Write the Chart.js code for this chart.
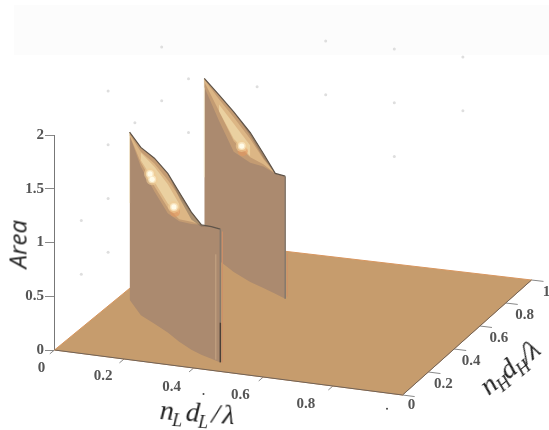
<!DOCTYPE html>
<html>
<head>
<meta charset="utf-8">
<style>
  html, body { margin: 0; padding: 0; background: #fff; }
  #wrap { position: relative; width: 549px; height: 430px; overflow: hidden; }
  #band { position: absolute; left: 14px; top: 5px; width: 535px; height: 50px; background: #fcfcfc; }
  canvas { position: absolute; left: 0; top: 0; filter: blur(0.5px); }
  .title { position: absolute; white-space: nowrap; color: #222; transform-origin: left center; }
  .math { font: italic 28px "Liberation Serif", serif; letter-spacing: -1px; }
  .math sub { font-size: 18px; line-height: 0; vertical-align: -6px; }
  .math b { font-weight: normal; margin-left: 4px; }
  #zTitle { left: -7px; top: 228px; width: 48px; text-align: center; font: italic 24px "Open Sans", sans-serif; transform-origin: center; transform: rotate(-90deg); }
  #lTitle { left: 160px; top: 394px; transform: rotate(4deg); }
  #hTitle { left: 483px; top: 373px; transform: rotate(-39deg); }
</style>
</head>
<body>
<div id="wrap">
  <div id="band"></div>
  <canvas id="chart" width="549" height="430"></canvas>
  <div class="title" id="zTitle">Area</div>
  <div class="title math" id="lTitle">n<sub>L</sub><b>d</b><sub>L</sub><b>/</b><b>λ</b></div>
  <div class="title math" id="hTitle">n<sub>H</sub>d<sub>H</sub>/λ</div>
</div>
<script src="https://cdn.jsdelivr.net/npm/chart.js@4"></script>
<script>
// ticks
const areaTicks = [0, 0.5, 1, 1.5, 2];
const nLTicks = [0, 0.2, 0.4, 0.6, 0.8];
const nHTicks = [0, 0.2, 0.4, 0.6, 0.8, 1];

// front wall: footprint, crest height, cap bands
const wallOneL = [0.035, 0.11, 0.17, 0.23, 0.286, 0.34, 0.38, 0.417, 0.45];
const wallOneH = [0.47, 0.36, 0.306, 0.25, 0.19, 0.14, 0.11, 0.089, 0.07];
const wallOneTop = [1.56, 1.56, 1.54, 1.48, 1.39, 1.28, 1.21, 1.23, 1.24];
const wallOneCapLow = [1.53, 1.38, 1.23, 1.11, 1.12, 1.17, 1.21, 1.23, 1.24];
const wallOneMidTop = [1.54, 1.52, 1.49, 1.42, 1.35, 1.27, 1.21, 1.23, 1.24];
const wallOneMidLow = [1.53, 1.42, 1.28, 1.16, 1.14, 1.19, 1.21, 1.23, 1.24];
const wallOneShade = [1.56, 1.56, 1.54, 1.48, 1.34, 1.21, 1.19, 1.23, 1.24];
const oneLightL = [0.11, 0.17, 0.23, 0.286];
const oneLightH = [0.36, 0.306, 0.25, 0.19];
const oneLightTop = [1.51, 1.46, 1.38, 1.28];
const oneLightLow = [1.44, 1.32, 1.20, 1.19];

// back wall
const wallTwoL = [0.046, 0.141, 0.214, 0.286, 0.337, 0.385, 0.425];
const wallTwoH = [1.0, 0.866, 0.788, 0.726, 0.692, 0.657, 0.628];
const wallTwoTop = [1.52, 1.54, 1.49, 1.39, 1.25, 1.12, 1.14];
const wallTwoCapLow = [1.44, 1.30, 1.12, 1.11, 1.13, 1.12, 1.14];
const wallTwoMidTop = [1.51, 1.50, 1.44, 1.33, 1.20, 1.12, 1.14];
const wallTwoMidLow = [1.49, 1.39, 1.22, 1.16, 1.15, 1.12, 1.14];
const wallTwoShade = [1.52, 1.54, 1.49, 1.36, 1.21, 1.12, 1.14];
const twoLightL = [0.141, 0.214, 0.286];
const twoLightH = [0.866, 0.788, 0.726];
const twoLightTop = [1.45, 1.38, 1.27];
const twoLightLow = [1.39, 1.24, 1.17];

// specular spots on the caps
const glowL = [0.148, 0.16, 0.265, 0.25];
const glowH = [0.33, 0.315, 0.205, 0.755];
const glowZ = [1.36, 1.33, 1.23, 1.22];
const haloL = [0.27, 0.255];
const haloH = [0.2, 0.75];
const haloZ = [1.19, 1.18];

// faint leftovers of the grid on the two back planes
const speckL = [0, 0, 0, 0, 0, 0, 0, 0, 0, 0, 0, 0.2, 0.4, 0.4, 0.6, 0.6, 0.6, 0.8, 0.8];
const speckH = [0.2, 0.2, 0.4, 0.4, 0.4, 0.4, 0.6, 0.8, 0.8, 1, 1, 1, 1, 1, 1, 1, 1, 1, 1];
const speckZ = [0.5, 1, 0.5, 1, 1.5, 2, 1.5, 1.5, 2, 1, 1.5, 1.5, 1.5, 2, 1, 1.5, 2, 1.5, 2];

// two stray scan marks below the floor
const strayL = [0.5, 1];
const strayH = [-0.19, -0.12];

// view: how nL, nH and Area land on the flat chart, in pixels per unit
const PX_L = 348, PX_H = 134, PX_LH = 5;
const PY_L = 45, PY_H = 110, PY_LH = 5, PY_Z = 107.5;

const p3 = (L, H, z) => ({
  x: L + (PX_H * H - PX_LH * L * H) / PX_L,
  y: z + (PY_H * H - PY_L * L + PY_LH * L * H) / PY_Z,
});
const strip = (Ls, Hs, Zs) => Ls.map((L, i) => p3(L, Hs[i], Array.isArray(Zs) ? Zs[i] : Zs));

const line = (data, color, width = 1, extra = {}) => ({
  type: 'scatter', data, showLine: true, pointRadius: 0, borderColor: color, borderWidth: width, clip: false, fill: false, ...extra,
});
const band = (data, color, extra = {}) => line(data, color, 0, { fill: '+1', backgroundColor: color, ...extra });
const dots = (data, color, radius) => ({
  type: 'scatter', data, showLine: false, pointRadius: radius, pointBackgroundColor: color, pointBorderWidth: 0, clip: false,
});
// vertical line standing on the floor
const post = (L, H, z0, z1, color, width) => line([p3(L, H, z0), p3(L, H, z1)], color, width);

const WALL = '#ab8a6f', FLOOR = '#c69c6d', CAP = '#c39b72', CAP_MID = '#dcb685', CAP_LIGHT = '#ead0a0', CREST = '#5f5449', NONE = 'rgba(0,0,0,0)';
const SHADE = 'rgba(110,98,84,0.45)', EDGE = '#85796c', ORANGE = '#cf8f68', PALE = 'rgba(240,226,195,0.8)';

const glowPts = strip(glowL, glowH, glowZ);
const one = zs => strip(wallOneL, wallOneH, zs);
const two = zs => strip(wallTwoL, wallTwoH, zs);
const endOne = wallOneL.length - 1, endTwo = wallTwoL.length - 1;

// first dataset is painted last, so front things come first
const datasets = [
  // front wall end
  post(wallOneL[endOne], wallOneH[endOne], 0, 0.37, '#4a4038', 1.5),
  post(wallOneL[endOne], wallOneH[endOne], 0.37, wallOneTop[endOne], EDGE, 1.5),
  post(wallOneL[endOne] + 0.006, wallOneH[endOne], 0, wallOneTop[endOne] - 0.02, ORANGE, 1),
  post(wallOneL[endOne] - 0.013, wallOneH[endOne], 0.02, 1.0, '#c7a584', 1),
  // glow, small on top
  dots(glowPts, '#fffbe8', 2.6),
  dots(glowPts, 'rgba(250,232,196,0.8)', 4),
  dots(glowPts, 'rgba(240,205,150,0.6)', 6),
  dots(strip(haloL, haloH, haloZ), 'rgba(226,150,95,0.6)', 5),
  line(one(wallOneTop), CREST, 1.2),
  band(one(wallOneShade), SHADE),
  line(one(wallOneTop), NONE, 0),
  band(strip(oneLightL, oneLightH, oneLightTop), CAP_LIGHT),
  line(strip(oneLightL, oneLightH, oneLightLow), NONE, 0),
  band(one(wallOneMidTop), CAP_MID),
  line(one(wallOneMidLow), NONE, 0),
  band(one(wallOneTop), CAP),
  line(one(wallOneCapLow), NONE, 0),
  post(wallOneL[0], wallOneH[0], 0.9, wallOneTop[0], PALE, 1),
  band(one(wallOneTop), WALL),
  line(one(0), NONE, 0),

  // back wall end
  post(wallTwoL[endTwo], wallTwoH[endTwo], 0, wallTwoTop[endTwo], EDGE, 1.5),
  post(wallTwoL[endTwo] + 0.006, wallTwoH[endTwo], 0.02, 0.42, ORANGE, 1),
  line(two(wallTwoTop), CREST, 1.2),
  band(two(wallTwoShade), SHADE),
  line(two(wallTwoTop), NONE, 0),
  band(strip(twoLightL, twoLightH, twoLightTop), CAP_LIGHT),
  line(strip(twoLightL, twoLightH, twoLightLow), NONE, 0),
  band(two(wallTwoMidTop), CAP_MID),
  line(two(wallTwoMidLow), NONE, 0),
  band(two(wallTwoTop), CAP),
  line(two(wallTwoCapLow), NONE, 0),
  post(wallTwoL[0], wallTwoH[0], 0.6, wallTwoTop[0], PALE, 1),
  band(two(wallTwoTop), WALL),
  line(two(0), NONE, 0),

  // floor
  line([p3(0, 0, 0), p3(1, 0, 0), p3(1, 1, 0)], '#6f6257', 1),
  band([p3(0, 0, 0), p3(0, 1, 0), p3(1, 1, 0)], FLOOR, { borderColor: '#d8965f', borderWidth: 1 }),
  line([p3(0, 0, 0), p3(1, 0, 0), p3(1, 1, 0)], '#d8965f', 1),

  // axis and tick marks
  line([p3(0, 0, 0), p3(0, 0, 2)], '#777', 1),
  ...nLTicks.map(v => line([p3(v, 0, 0), p3(v, -0.035, 0)], '#888', 1)),
  ...nHTicks.map(v => line([p3(1, v, 0), p3(1.035, v, 0)], '#888', 1)),

  dots(strip(speckL, speckH, speckZ), '#dedede', 1.5),
  dots(strip(strayL, strayH, 0), '#444', 1),
];

// tick labels of the two floor axes, offset from the tick in pixels
const nLLabelShift = [[-13, 18], [-21, 17], [-22, 19], [-23, 18], [-27, 18]];
const nHLabelShift = [[9, 10], [15, 12], [17, 12], [19, 12], [19, 12], [15, 12]];

const floorLabels = {
  id: 'floorLabels',
  afterDatasetsDraw(chart) {
    const { ctx, scales: { x, y } } = chart;
    const put = (pt, text, shift) => {
      ctx.fillText(text, x.getPixelForValue(pt.x) + shift[0], y.getPixelForValue(pt.y) + shift[1]);
    };
    ctx.save();
    ctx.font = 'bold 15px "Liberation Serif", serif';
    ctx.fillStyle = '#555';
    ctx.textAlign = 'center';
    ctx.textBaseline = 'middle';
    nLTicks.forEach((v, i) => put(p3(v, 0, 0), String(v), nLLabelShift[i]));
    nHTicks.forEach((v, i) => put(p3(1, v, 0), String(v), nHLabelShift[i]));
    ctx.restore();
  },
};

new Chart(document.getElementById('chart'), {
  type: 'scatter',
  data: { datasets },
  plugins: [floorLabels],
  options: {
    responsive: false,
    animation: false,
    events: [],
    layout: { padding: 0, autoPadding: false },
    plugins: { legend: { display: false }, tooltip: { enabled: false } },
    scales: {
      x: { display: false, min: -0.5 / PX_L, max: 494.5 / PX_L },
      y: {
        min: -80 / PY_Z,
        max: 350 / PY_Z,
        afterBuildTicks: ax => { ax.ticks = areaTicks.map(value => ({ value })); },
        afterFit: ax => { ax.width = 54; ax.paddingTop = 0; ax.paddingBottom = 0; },
        border: { display: false },
        grid: { drawOnChartArea: false, drawTicks: true, tickLength: 9, tickColor: '#888' },
        ticks: {
          padding: 1,
          color: '#555',
          font: { family: '"Liberation Serif", serif', size: 15, weight: 'bold' },
          callback: v => String(v),
        },
      },
    },
  },
});
</script>
</body>
</html>
